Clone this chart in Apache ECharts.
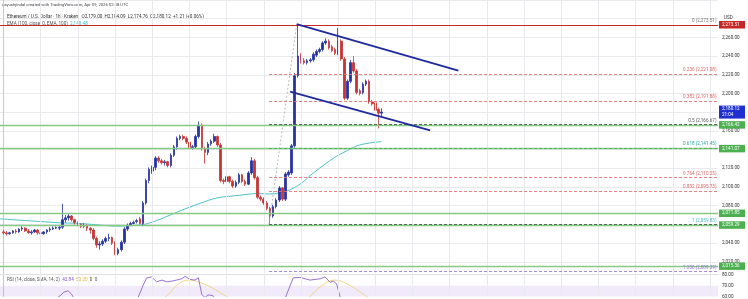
<!DOCTYPE html>
<html><head><meta charset="utf-8">
<script src="https://cdn.jsdelivr.net/npm/echarts@6/dist/echarts.min.js"></script>
<style>html,body{margin:0;padding:0;background:#fff}#c{width:748px;height:299px}</style>
</head><body><div id="c"></div>
<script>
// ---- data ----
// candle index -> [open, close, low, high]
const CANDLES = [
[2052,2051,2049,2054],[2051,2050,2048,2053],[2050,2051,2049,2052],[2051,2053,2050,2054],[2053,2052,2050,2055],
[2052,2055,2051,2056],[2055,2056,2053,2058],[2056,2053,2052,2057],[2053,2051,2050,2055],[2051,2052,2049,2054],
[2052,2054,2051,2055],[2054,2051,2049,2055],[2051,2050,2048,2053],[2050,2052,2049,2053],[2052,2054,2050,2055],
[2054,2055,2052,2057],[2055,2056,2054,2058],[2056,2056.6,2055,2058],[2056,2057,2054,2059],[2057,2065,2055,2082],
[2065,2067,2062,2070],[2067,2069,2064,2071],[2069,2065,2063,2070],[2065,2062,2060,2066],[2062,2060,2058,2063],
[2060,2058,2056,2061],[2058,2059,2056,2061],[2059,2056,2053,2060],[2056,2054,2050,2057],[2054,2045,2043,2056],
[2045,2038,2035,2047],[2038,2039,2033,2042],[2039,2042,2037,2044],[2042,2045,2040,2047],[2045,2046,2042,2050],
[2046,2040,2038,2047],[2040,2029,2027,2042],[2029,2033,2027,2035],[2033,2041,2031,2043],[2041,2055,2039,2057],
[2055,2059,2053,2061],[2059,2061,2058,2063],[2061,2062,2060,2064],[2063,2064,2061,2066],[2066,2061,2060,2068],
[2061,2083,2058,2085],[2083,2107,2081,2109],[2107,2119,2104,2121],[2117,2121,2114,2123],[2121,2131,2118,2133],
[2131,2128,2126,2133],[2128,2126,2124,2130],[2126,2127,2123,2129],[2127,2123,2121,2128],[2123,2134,2121,2136],
[2134,2143,2132,2145],[2143,2152,2140,2154],[2152,2154,2150,2156],[2154,2152,2150,2156],[2152,2148,2146,2154],
[2148,2142,2140,2150],[2142,2143,2140,2145],[2143,2154,2141,2156],[2154,2166,2152,2170],[2166,2141,2139,2168],
[2141,2137,2125,2143],[2137,2146,2134,2148],[2146,2149,2144,2151],[2149,2154,2147,2157],[2154,2145,2143,2155],
[2145,2107,2105,2147],[2107,2106,2103,2109],[2106,2111,2104,2113],[2111,2106,2104,2112],[2106,2101,2099,2108],
[2101,2105,2099,2107],[2105,2113,2103,2115],[2113,2106,2104,2114],[2106,2103,2101,2108],[2103,2115,2102,2117],
[2115,2128,2113,2132],[2128,2110,2108,2130],[2110,2089,2087,2112],[2089,2087,2085,2091],[2087,2083,2081,2089],
[2083,2077,2075,2085],[2077,2069,2059.83,2079],[2069,2079,2067,2081],[2079,2086,2077,2088],[2086,2099,2084,2101],
[2099,2087,2085,2100],[2087,2114,2085,2116],[2113,2116,2111,2118],[2115,2144,2113,2146],[2144,2219,2142,2222],
[2219,2240,2217,2273.51],[2240,2235,2232,2243],[2235,2233,2231,2238],[2233,2235,2231,2237],[2235,2236,2233,2238],
[2236,2242,2234,2244],[2241,2245,2239,2247],[2245,2247,2243,2249],[2247,2254,2245,2256],[2254,2256,2252,2259],
[2256,2249,2247,2258],[2250,2246,2244,2252],[2247,2243,2241,2249],[2243,2256,2241,2270],[2256,2237,2235,2258],
[2237,2195,2193,2239],[2195,2213,2193,2215],[2213,2233,2211,2236],[2233,2224,2222,2240],[2224,2201,2199,2226],
[2203,2200,2198,2205],[2201,2210,2199,2212],[2210,2213,2208,2215],[2213,2191,2189,2215],[2191,2189,2187,2193],
[2190,2182,2180,2191],[2183,2179,2162.7,2185],[2179.00,2180.12,2174.76,2184.09]
];
// EMA(100) read points: [candle index, price]
const EMA_PTS = [[-1.2,2066],[5.3,2064.5],[11.8,2063.1],[18.2,2061.7],[24.7,2061],[31.1,2059.3],[36,2058.1],
[40.8,2058.6],[45.7,2060.2],[50.5,2065.5],[57,2074.5],[63.4,2082.5],[68.9,2088.3],[76.3,2091.2],[81.8,2093],
[86,2092.5],[91.5,2095.8],[95.7,2103],[100,2115],[104,2125],[107.5,2133],[111,2139],[114,2144],[118,2147],[122,2148.48]];
// RSI(14) and its SMA(14): [candle index, value]
const RSI_PTS = [[-1.2,45],[6,48],[12,52],[16,56],[18.2,60.6],[19.5,64],[20.9,65.3],[22,61.9],[23,57],[26,50],[31,40],
[36,36],[40,45],[43,56],[45,70],[46.2,77.2],[47.8,78.1],[49.4,73.6],[51.1,75.2],[52.7,73.6],[54.7,74.4],[57.5,76.4],
[58.6,78.6],[60.2,75.8],[61.8,75.2],[62.9,77.3],[64,61.9],[65,59],[66,61.5],[67.6,60.8],[69,50],[75,45],[82,35],
[86,32],[90,52],[92.5,70],[93.5,77.3],[95.7,77.7],[98.9,75.2],[102.2,76.4],[103.8,78.1],[105.4,73.1],[106.4,74.4],
[107.5,71.7],[108.6,60],[110,45],[115,40],[122,42.84]];
const RSI_SMA_PTS = [[-1.2,48],[20,50],[40,47],[48,54],[52.7,60.6],[55.9,70.3],[59.6,75.2],[63.4,73.1],[68,67],
[72,60],[80,50],[90,45],[95,52],[98.9,60],[102.2,68.9],[107,75.2],[111.8,70.3],[117.2,60],[122,50.2]];
// Fibonacci retracement
const FIB_RATIOS = ['0','0.236','0.382','0.5','0.618','0.764','0.832','1','1.236'];
const FIB_PRICES = [2273.51,2221.08,2191.88,2166.67,2141.45,2110.25,2095.73,2059.83,2009.39];
const FIB_ANCHORS = [[85.7,2059.83],[94.6,2273.51]];
// horizontal levels
const GREEN_LEVELS = [2166.42,2141.07,2071.85,2059.29,2015.36];
const RED_LEVEL = 2273.51;
const LAST_PRICE = 2180.12, LAST_COUNTDOWN = '21:04';
// channel
const UPPER_CHANNEL = [[94.6,2274.3],[146.8,2224.5]];
const LOWER_CHANNEL = [[92.5,2202.1],[137.7,2160.5]];
// axes
const X_MIN = -1.136, X_MAX = 230.6;
const VGRID = [12,24,36,48,60,72,84,96,108,120,132,144,156,168,180,192,204,216,228];
const Y_HIDDEN = [2000,2060,2140,2180,2280,2300];
const RSI_TICKS = [60,70,80];

// ---- styles ----
const FONT = 'Roboto, "Noto Sans", sans-serif';
const UP = '#27339f', DOWN = '#c73434';
const GRID_COLOR = '#e8eaee';
const FIB_COLORS = ['#c62828','#e57373','#e57373','#3e5f3e','#4caf50','#e57373','#e57373','#3e5f3e','#9c7fd0'];
const FIB_LABEL_COLORS = ['#777','#e06666','#e06666','#555','#26a69a','#e06666','#e06666','#4db6c6','#9575cd'];

const fmt = v => v.toLocaleString('en-US',{minimumFractionDigits:2,maximumFractionDigits:2});
const boxLabel = (text, bg) => ({show:true, position:'end', distance:1, formatter:text, backgroundColor:bg,
  color:'#fff', fontSize:4.6, fontFamily:FONT, padding:[1,3], width:20, lineHeight:5.5});

const levelData = [];
levelData.push({yAxis:RED_LEVEL, lineStyle:{color:'#c62828', width:1.2, type:'solid'}, label:boxLabel(fmt(RED_LEVEL),'#c62828')});
GREEN_LEVELS.forEach(v => levelData.push({yAxis:v, lineStyle:{color:'#86c986', width:1.4, type:'solid'}, label:boxLabel(fmt(v),'#4caf50')}));
FIB_PRICES.forEach((p,k) => levelData.push([
  {coord:[FIB_ANCHORS[0][0], p], lineStyle:{color:FIB_COLORS[k], width:k===0?1.2:0.9, type:k===0?'solid':[3,2]},
   label:{show:true, position:'insideEndTop', distance:1.5, formatter:FIB_RATIOS[k]+' ('+fmt(p)+')',
     color:FIB_LABEL_COLORS[k], fontSize:4.6, fontFamily:FONT}},
  {coord:[X_MAX, p]}]));
levelData.push({yAxis:LAST_PRICE, lineStyle:{color:'rgba(0,0,0,0)', width:0}, label:boxLabel(fmt(LAST_PRICE)+'\n'+LAST_COUNTDOWN,'#1f2fd0')});

const gridLines = {silent:true, symbol:['none','none'], animation:false, label:{show:false},
  lineStyle:{color:GRID_COLOR, width:1, type:'solid'}, data:VGRID.map(v=>({xAxis:v}))};

const chart = echarts.init(document.getElementById('c'), null, {renderer:'canvas'});
chart.setOption({
  animation:false,
  backgroundColor:'#ffffff',
  grid:[
    {left:0, right:30, top:-0.84, height:281.34},
    {left:0, right:30, top:274, height:25}
  ],
  xAxis:[
    {type:'value', gridIndex:0, min:X_MIN, max:X_MAX, show:false},
    {type:'value', gridIndex:1, min:X_MIN, max:X_MAX, position:'top',
     axisLine:{show:true, lineStyle:{color:'#e0e0e0'}}, axisTick:{show:false}, axisLabel:{show:false}, splitLine:{show:false}}
  ],
  yAxis:[
    {type:'value', gridIndex:0, position:'right', min:2000, max:2300, interval:20,
     axisLine:{show:true, lineStyle:{color:'#c9c9c9'}}, axisTick:{show:false},
     axisLabel:{fontSize:4.6, color:'#333', fontFamily:FONT, margin:4,
       formatter:v => Y_HIDDEN.includes(v) ? '' : fmt(v)},
     splitLine:{show:true, showMinLine:false, lineStyle:{color:GRID_COLOR, width:1}}},
    {type:'value', gridIndex:1, position:'right', min:60, max:80.83, interval:10,
     axisLine:{show:true, lineStyle:{color:'#c9c9c9'}}, axisTick:{show:false},
     axisLabel:{fontSize:4.6, color:'#333', fontFamily:FONT, margin:4,
       formatter:v => RSI_TICKS.includes(v) ? v.toFixed(2) : ''},
     splitLine:{show:false}}
  ],
  graphic:[
    {type:'text', left:2, top:3, style:{text:'aayushjindal created with TradingView.com, Apr 09, 2026 02:38 UTC', fontSize:4.2, fill:'#444', fontFamily:FONT}},
    {type:'text', left:7, top:14, style:{text:'Ethereum / U.S. Dollar · 1h · Kraken   O2,179.00  H2,184.09  L2,174.76  C2,180.12  +1.21 (+0.06%)', fontSize:4.6, fill:'#333', fontFamily:FONT}},
    {type:'text', left:7, top:21, style:{text:'{a|EMA (100, close, 0, EMA, 100)}  {b|2,148.48}', fontSize:4.6, fontFamily:FONT,
      rich:{a:{fill:'#555', fontSize:4.6, fontFamily:FONT}, b:{fill:'#3fbcc4', fontSize:4.6, fontFamily:FONT}}}},
    {type:'text', left:7, top:277, style:{text:'{a|RSI (14, close, SMA, 14, 2)}  {b|42.84}  {c|50.20}  {a|0  0}', fontSize:4.6, fontFamily:FONT,
      rich:{a:{fill:'#555', fontSize:4.6, fontFamily:FONT}, b:{fill:'#7e57c2', fontSize:4.6, fontFamily:FONT}, c:{fill:'#e6b422', fontSize:4.6, fontFamily:FONT}}}},
    {type:'text', left:724, top:15, style:{text:'USD', fontSize:4.6, fill:'#333', fontFamily:FONT}}
  ],
  series:[
    {type:'line', xAxisIndex:0, yAxisIndex:0, data:[[X_MIN,1000]], symbol:'none', lineStyle:{width:0}, z:0, markLine:gridLines},
    {type:'line', xAxisIndex:1, yAxisIndex:1, data:[[X_MIN,0]], symbol:'none', lineStyle:{width:0}, z:0, markLine:gridLines},
    {type:'line', name:'EMA', xAxisIndex:0, yAxisIndex:0, data:EMA_PTS, smooth:0.3, symbol:'none',
     lineStyle:{color:'#4cc3c9', width:1}, z:2},
    {type:'candlestick', xAxisIndex:0, yAxisIndex:0, barWidth:2.1, z:3,
     data:CANDLES.map((c,i)=>[i, c[0], c[1], c[2], c[3]]), encode:{x:0, y:[1,2,3,4]},
     itemStyle:{color:UP, color0:DOWN, borderColor:UP, borderColor0:DOWN, borderWidth:0.8}},
    {type:'line', xAxisIndex:0, yAxisIndex:0, data:[[X_MIN,1000]], symbol:'none', lineStyle:{width:0}, z:4,
     markLine:{silent:true, symbol:['none','none'], animation:false, data:levelData}},
    {type:'line', xAxisIndex:0, yAxisIndex:0, data:FIB_ANCHORS, symbol:'none', z:4,
     lineStyle:{color:'#a8a8a8', width:0.8, type:[2,2]}},
    {type:'line', xAxisIndex:0, yAxisIndex:0, data:UPPER_CHANNEL, symbol:'none', z:6, lineStyle:{color:'#1f2a9c', width:1.8}},
    {type:'line', xAxisIndex:0, yAxisIndex:0, data:LOWER_CHANNEL, symbol:'none', z:6, lineStyle:{color:'#1f2a9c', width:1.8}},
    {type:'line', xAxisIndex:1, yAxisIndex:1, data:RSI_SMA_PTS, smooth:0.4, symbol:'none', z:3,
     lineStyle:{color:'#f5d27a', width:0.9}},
    {type:'line', xAxisIndex:1, yAxisIndex:1, data:RSI_PTS, symbol:'none', z:4,
     lineStyle:{color:'#8e63c9', width:0.9},
     markArea:{silent:true, itemStyle:{color:'rgba(149,90,220,0.13)'}, data:[[{yAxis:30},{yAxis:70}]]}}
  ]
});
</script></body></html>
